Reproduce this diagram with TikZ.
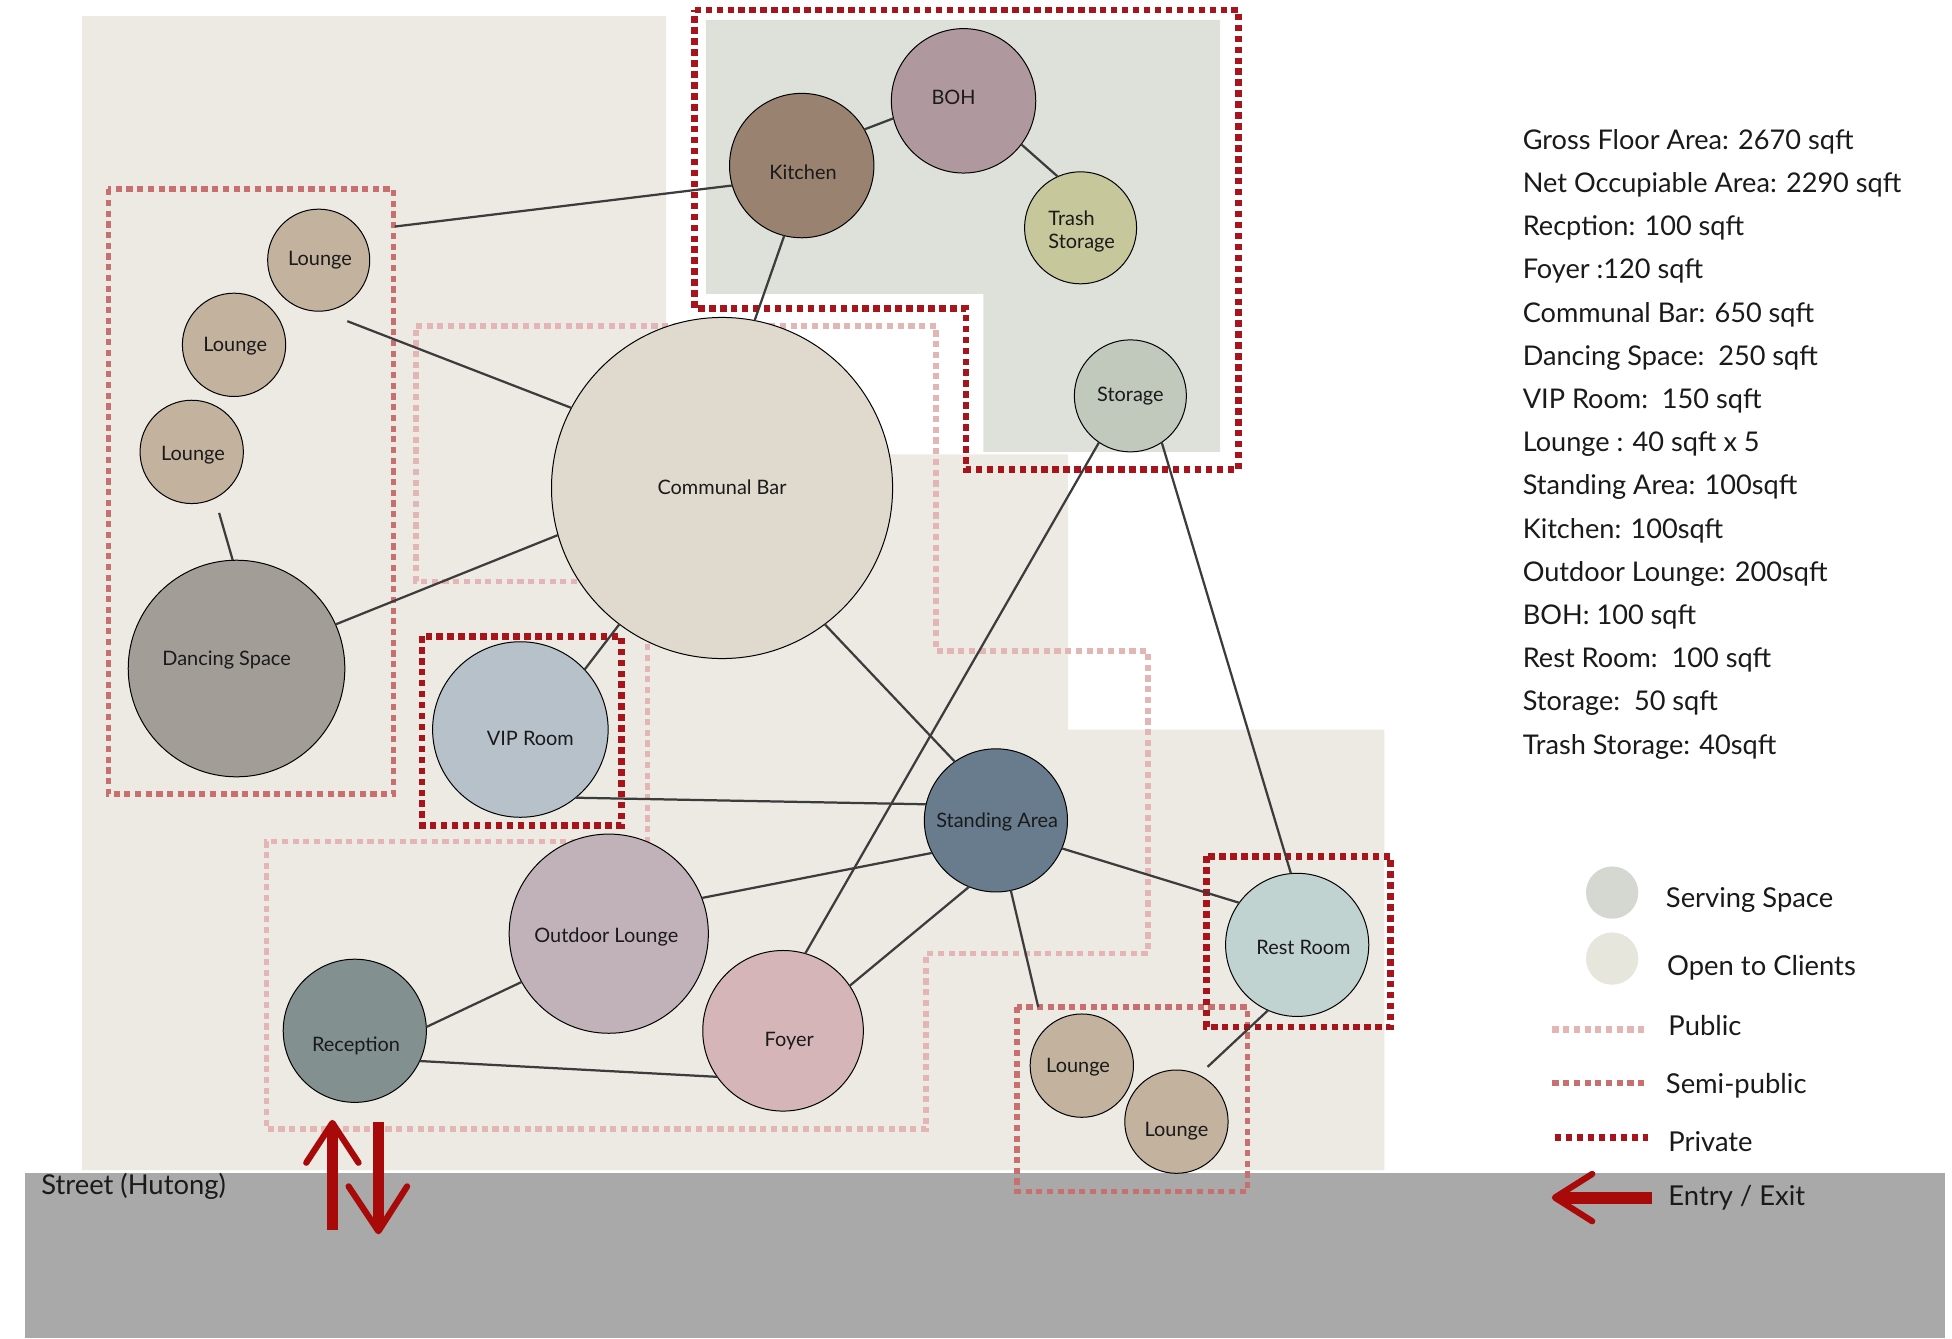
\documentclass[tikz,border=0pt]{standalone}
\usepackage{fontspec}
\setmainfont{Lato}
\definecolor{beige}{HTML}{EDEAE3}
\definecolor{servbg}{HTML}{DEE1DA}
\definecolor{street}{HTML}{A9A9A9}
\definecolor{kitc}{HTML}{9A8270}
\definecolor{bohc}{HTML}{AF989E}
\definecolor{trashc}{HTML}{C6C79B}
\definecolor{storc}{HTML}{C0C9BC}
\definecolor{barc}{HTML}{E0D9CE}
\definecolor{loungec}{HTML}{C2B29E}
\definecolor{dancec}{HTML}{A29D97}
\definecolor{vipc}{HTML}{B6C1CA}
\definecolor{standc}{HTML}{687C8D}
\definecolor{outc}{HTML}{C1B2B9}
\definecolor{recc}{HTML}{82918F}
\definecolor{foyc}{HTML}{D5B5B7}
\definecolor{restc}{HTML}{C0D3D0}
\definecolor{legserv}{HTML}{D5D8D0}
\definecolor{legopen}{HTML}{E6E6DC}
\definecolor{pubc}{HTML}{E3B5B5}
\definecolor{semic}{HTML}{C87070}
\definecolor{privc}{HTML}{A8141B}
\definecolor{arrc}{HTML}{A80A0A}
\definecolor{connc}{HTML}{3C3C3C}
\definecolor{txt}{HTML}{1A1A1A}
\begin{document}
\begin{tikzpicture}[x=1pt,y=-1pt,
  room/.style={circle, draw=black, line width=0.8pt, inner sep=0pt, outer sep=0pt, minimum size=#1},
  lbl/.style={font=\fontsize{16}{19}\selectfont, text=txt, inner sep=0pt},
  info/.style={font=\fontsize{21.8}{24}\selectfont, text=txt, inner sep=0pt, anchor=base west},
  legtxt/.style={font=\fontsize{22}{24}\selectfont, text=txt, inner sep=0pt, anchor=west},
  conn/.style={draw=connc, line width=1.8pt},
  pubzone/.style={draw=pubc, line width=4.5pt, dash pattern=on 5pt off 3.6pt},
  semizone/.style={draw=semic, line width=4.5pt, dash pattern=on 5pt off 3.6pt},
  privzone/.style={draw=privc, line width=5.5pt, dash pattern=on 5.2pt off 3.6pt},
  shaft/.style={draw=arrc, line width=8.5pt},
  chev/.style={draw=arrc, line width=5pt, line cap=round, line join=round}]
\useasboundingbox (0,0) rectangle (1568,1075);
\fill[white] (0,0) rectangle (1568,1075);
% backgrounds
\fill[beige] (66,13) -- (535,13) -- (535,365) -- (858,365) -- (858,586) -- (1112,586) -- (1112,940) -- (66,940) -- cycle;
\fill[servbg] (567,16) -- (980,16) -- (980,363) -- (790,363) -- (790,236) -- (567,236) -- cycle;
\fill[street] (20,942) rectangle (1562,1075);
\node[font=\fontsize{22}{24}\selectfont, text=txt, inner sep=0pt, anchor=west] (streetlbl) at (33,953) {Street (Hutong)};
% zones
\draw[pubzone] (334,262) -- (752,262) -- (752,523) -- (922,523) -- (922,766) -- (744,766) -- (744,907) -- (214,907) -- (214,676) -- (520,676) -- (520,467) -- (334,467) -- cycle;
\draw[semizone] (87,152) rectangle (316,638);
\draw[semizone] (817,809) rectangle (1002,957);
\draw[privzone] (558,8) -- (995,8) -- (995,377) -- (776,377) -- (776,248) -- (558,248) -- cycle;
\draw[privzone] (339,511) rectangle (499,663);
\draw[privzone] (969,688) rectangle (1117,825);
% rooms
\node[room=116pt, fill=kitc] (kitchen) at (644,133) {};
\node[room=116pt, fill=bohc] (boh) at (774,81) {};
\node[room=90pt, fill=trashc] (trash) at (868,183) {};
\node[room=90pt, fill=storc] (storage) at (908,318) {};
\node[room=274pt, fill=barc] (bar) at (580,392) {};
\node[room=82pt, fill=loungec] (loungeA) at (256,209) {};
\node[room=83pt, fill=loungec] (loungeB) at (188,277) {};
\node[room=83pt, fill=loungec] (loungeC) at (154,363) {};
\node[room=174pt, fill=dancec] (dance) at (190,537) {};
\node[room=141pt, fill=vipc] (vip) at (418,586) {};
\node[room=115pt, fill=standc] (sa) at (800,659) {};
\node[room=160pt, fill=outc] (outdoor) at (489,750) {};
\node[room=115pt, fill=recc] (reception) at (285,828) {};
\node[room=129pt, fill=foyc] (foyer) at (629,828) {};
\node[room=115pt, fill=restc] (rest) at (1042,759) {};
\node[room=83pt, fill=loungec] (loungeD) at (869,856) {};
\node[room=83pt, fill=loungec] (loungeE) at (945,901) {};
% free ends
\coordinate (c1) at (317,182);
\coordinate (c2) at (279,258);
\coordinate (c3) at (176,412);
\coordinate (c4) at (834,809);
\coordinate (c5) at (970,857);
% connectors
\draw[conn] (c1) -- (kitchen.196);
\draw[conn] (c2) -- (bar.152);
\draw[conn] (c3) -- (dance.92);
\draw[conn] (dance.24) -- (bar.196);
\draw[conn] (kitchen.-104) -- (bar.79);
\draw[conn] (kitchen.30) -- (boh.194);
\draw[conn] (boh.-37) -- (trash.114);
\draw[conn] (storage.-124) -- (foyer.74);
\draw[conn] (storage.-56) -- (rest.95);
\draw[conn] (bar.-127) -- (vip.43);
\draw[conn] (vip.-51) -- (sa.167);
\draw[conn] (bar.-53.5) -- (sa.125);
\draw[conn] (outdoor.21) -- (sa.207);
\draw[conn] (foyer.34) -- (sa.-112.5);
\draw[conn] (sa.-78) -- (c4);
\draw[conn] (sa.-23) -- (rest.144);
\draw[conn] (rest.-114) -- (c5);
\draw[conn] (outdoor.209) -- (reception.3);
\draw[conn] (reception.-25) -- (foyer.215);
% room labels
\node[lbl] (kitchen-t) at (645,138) {Kitchen};
\node[lbl] (boh-t) at (766,78) {BOH};
\node[lbl, align=left, anchor=west, font=\fontsize{16}{19}\selectfont] (trash-t) at (842,186) {Trash\\Storage};
\node[lbl] (storage-t) at (908,318) {Storage};
\node[lbl] (bar-t) at (580,391) {Communal Bar};
\node[lbl] (loungeA-t) at (257,209) {Lounge};
\node[lbl] (loungeB-t) at (189,278) {Lounge};
\node[lbl] (loungeC-t) at (155,366) {Lounge};
\node[lbl] (dance-t) at (182,530) {Dancing Space};
\node[lbl] (vip-t) at (426,593) {VIP Room};
\node[lbl] (sa-t) at (801,660) {Standing Area};
\node[lbl] (outdoor-t) at (487,753) {Outdoor Lounge};
\node[lbl] (reception-t) at (286,840) {Reception};
\node[lbl] (foyer-t) at (634,836) {Foyer};
\node[lbl] (rest-t) at (1047,761) {Rest Room};
\node[lbl] (loungeD-t) at (866,857) {Lounge};
\node[lbl] (loungeE-t) at (945,909) {Lounge};
% entry / exit arrows
\coordinate (upb) at (267,988); \coordinate (upt) at (267,906);
\coordinate (upl) at (246,934); \coordinate (uptip) at (267,902); \coordinate (upr) at (288,934);
\draw[shaft] (upb) -- (upt);
\draw[chev] (upl) -- (uptip) -- (upr);
\coordinate (dnb) at (304,901); \coordinate (dnt) at (304,985);
\coordinate (dnl) at (280,953); \coordinate (dntip) at (304,989); \coordinate (dnr) at (327,953);
\draw[shaft] (dnb) -- (dnt);
\draw[chev] (dnl) -- (dntip) -- (dnr);
% area list
\node[info] (i1) at (1223,120) {Gross Floor Area: 2670 sqft};
\node[info] (i2) at (1223,154.7) {Net Occupiable Area: 2290 sqft};
\node[info] (i3) at (1223,189.4) {Recption: 100 sqft};
\node[info] (i4) at (1223,224.1) {Foyer :120 sqft};
\node[info] (i5) at (1223,258.8) {Communal Bar: 650 sqft};
\node[info] (i6) at (1223,293.5) {Dancing Space:\ \ 250 sqft};
\node[info] (i7) at (1223,328.2) {VIP Room:\ \ 150 sqft};
\node[info] (i8) at (1223,362.9) {Lounge : 40 sqft x 5};
\node[info] (i9) at (1223,397.6) {Standing Area: 100sqft};
\node[info] (i10) at (1223,432.3) {Kitchen: 100sqft};
\node[info] (i11) at (1223,467) {Outdoor Lounge: 200sqft};
\node[info] (i12) at (1223,501.7) {BOH: 100 sqft};
\node[info] (i13) at (1223,536.4) {Rest Room:\ \ 100 sqft};
\node[info] (i14) at (1223,571.1) {Storage:\ \ 50 sqft};
\node[info] (i15) at (1223,605.8) {Trash Storage: 40sqft};
% legend
\node[circle, fill=legserv, inner sep=0pt, minimum size=42pt] (legS) at (1295,717) {};
\node[legtxt] (legS-t) at (1338,723) {Serving Space};
\node[circle, fill=legopen, inner sep=0pt, minimum size=42pt] (legO) at (1295,770) {};
\node[legtxt] (legO-t) at (1339,777) {Open to Clients};
\coordinate (lp1) at (1247,827); \coordinate (lp2) at (1322,827);
\draw[pubzone, line width=5pt] (lp1) -- (lp2);
\node[legtxt] (legP-t) at (1340,824) {Public};
\coordinate (ls1) at (1247,870); \coordinate (ls2) at (1322,870);
\draw[semizone, line width=5pt] (ls1) -- (ls2);
\node[legtxt] (legSP-t) at (1338,872) {Semi-public};
\coordinate (lv1) at (1249,914); \coordinate (lv2) at (1324,914);
\draw[privzone] (lv1) -- (lv2);
\node[legtxt] (legV-t) at (1340,917) {Private};
\coordinate (le1) at (1327,962); \coordinate (le2) at (1253,962);
\coordinate (lel) at (1279,943); \coordinate (letip) at (1249,962); \coordinate (ler) at (1279,981);
\draw[shaft, line width=9.5pt] (le1) -- (le2);
\draw[chev] (lel) -- (letip) -- (ler);
\node[legtxt] (legE-t) at (1340,962) {Entry / Exit};
\end{tikzpicture}
\end{document}
